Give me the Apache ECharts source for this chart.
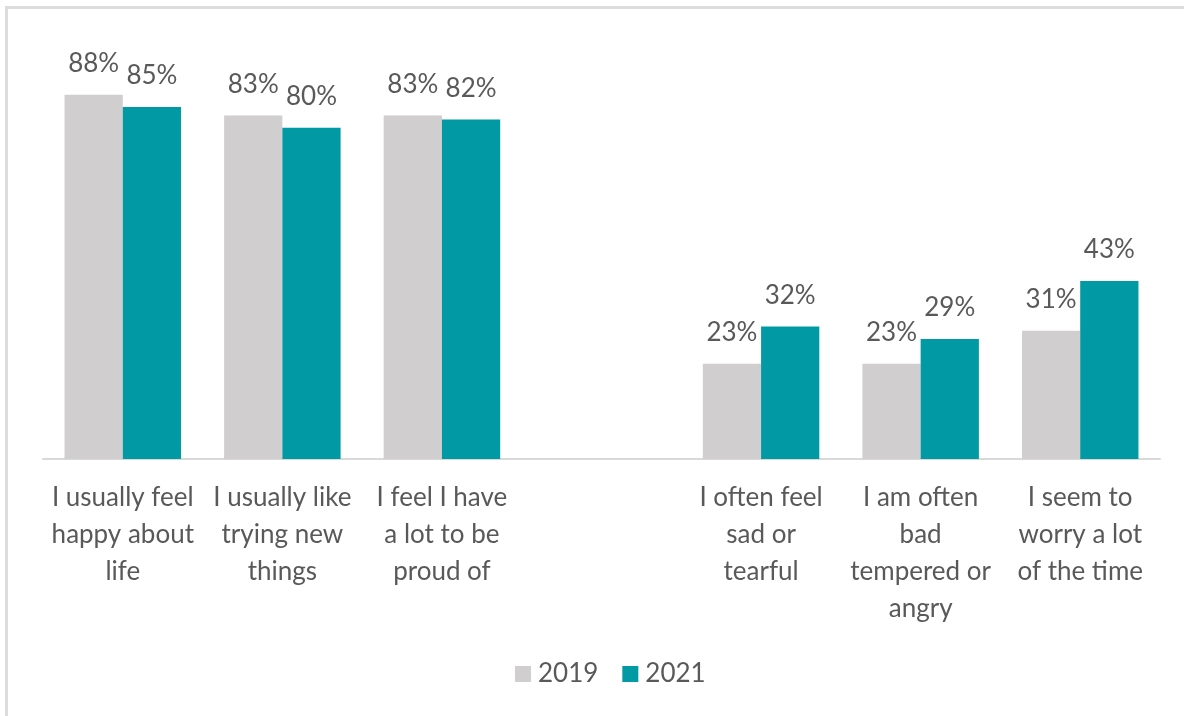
<!DOCTYPE html>
<html>
<head>
<meta charset="utf-8">
<script src="https://cdn.jsdelivr.net/npm/echarts@6/dist/echarts.min.js"></script>
<style>
  html, body { margin: 0; padding: 0; background: #ffffff; }
  #chart { width: 1184px; height: 716px; }
</style>
</head>
<body>
<div id="chart"></div>
<script>
// Wellbeing statements, 2019 vs 2021 (% agreeing); the empty slot separates positive and negative items
const categories = [
  'I usually feel\nhappy about\nlife',
  'I usually like\ntrying new\nthings',
  'I feel I have\na lot to be\nproud of',
  '',
  'I often feel\nsad or\ntearful',
  'I am often\nbad\ntempered or\nangry',
  'I seem to\nworry a lot\nof the time'
];
const values2019 = [88, 83, 83, null, 23, 23, 31];
const values2021 = [85, 80, 82, null, 32, 29, 43];
const seriesNames = ['2019', '2021'];

const textColor = '#595959';
const fontFamily = 'Lato, "Open Sans", sans-serif';

const chart = echarts.init(document.getElementById('chart'), null, { renderer: 'canvas' });

function barLabel() {
  return {
    show: true,
    position: 'top',
    distance: 18,
    color: textColor,
    fontSize: 26,
    fontFamily: fontFamily,
    formatter: p => (p.value == null ? '' : p.value + '%')
  };
}

chart.setOption({
  animation: false,
  backgroundColor: '#ffffff',
  graphic: [
    // outer frame (top and left edges visible)
    { type: 'line', shape: { x1: 6, y1: 7.5, x2: 1184, y2: 7.5 }, style: { stroke: '#dcdcdc', lineWidth: 3 } },
    { type: 'line', shape: { x1: 6.5, y1: 6, x2: 6.5, y2: 716 }, style: { stroke: '#dcdcdc', lineWidth: 3 } }
  ],
  grid: { left: 43, right: 24, top: 45, bottom: 257, containLabel: false },
  legend: {
    data: seriesNames,
    bottom: 24,
    left: 510,
    itemWidth: 16,
    itemHeight: 16,
    itemGap: 24,
    icon: 'rect',
    textStyle: { color: textColor, fontSize: 26, fontFamily: fontFamily, padding: [0, 0, 0, 2] }
  },
  xAxis: {
    type: 'category',
    data: categories,
    axisLine: { show: true, lineStyle: { color: '#d9d9d9', width: 2 } },
    axisTick: { show: false },
    axisLabel: {
      interval: 0,
      margin: 20,
      color: textColor,
      fontSize: 26,
      lineHeight: 37,
      fontFamily: fontFamily,
      align: 'center'
    }
  },
  yAxis: {
    type: 'value',
    min: 0,
    max: 100,
    show: false,
    splitLine: { show: false }
  },
  series: [
    {
      name: seriesNames[0],
      type: 'bar',
      data: values2019,
      barGap: '0%',
      barCategoryGap: '27%',
      itemStyle: { color: '#d0cece' },
      label: barLabel()
    },
    {
      name: seriesNames[1],
      type: 'bar',
      data: values2021,
      itemStyle: { color: '#0099a4' },
      label: barLabel()
    }
  ]
});
</script>
</body>
</html>
